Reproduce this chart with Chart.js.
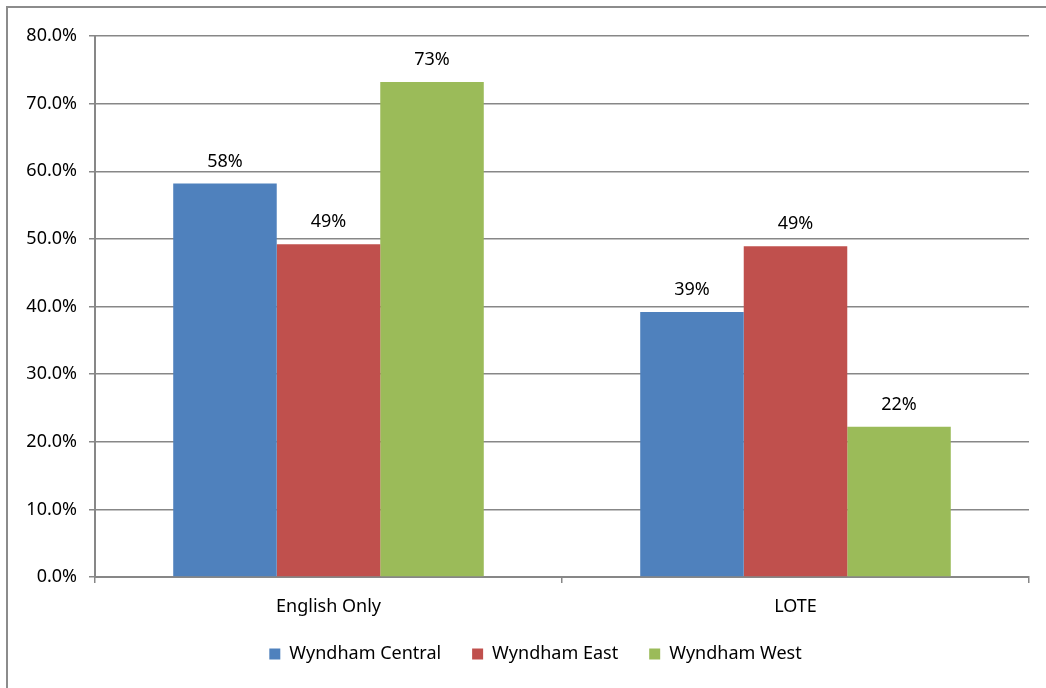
<!DOCTYPE html>
<html>
<head>
<meta charset="utf-8">
<script src="https://cdn.jsdelivr.net/npm/chart.js@4/dist/chart.umd.min.js"></script>
<style>
  html, body { margin: 0; padding: 0; background: #fff; }
  #wrap { position: relative; width: 1046px; height: 688px; }
  #frame { position: absolute; left: 6px; top: 6px; width: 1100px; height: 800px;
           border-left: 2px solid #8c8c8c; border-top: 2px solid #8c8c8c; box-sizing: border-box; }
  canvas { position: absolute; left: 0; top: 0; }
</style>
</head>
<body>
<div id="wrap">
  <div id="frame"></div>
  <canvas id="chart" width="1046" height="688"></canvas>
</div>
<script>
const categories = ['English Only', 'LOTE'];
const central = [58.2, 39.2];
const east = [49.2, 48.9];
const west = [73.2, 22.2];
const yTicks = [0, 10, 20, 30, 40, 50, 60, 70, 80];

const FONT = '"Noto Sans", "Open Sans", sans-serif';

// draw the value above each bar, rounded like the original
const barLabels = {
  id: 'barLabels',
  afterDatasetsDraw(chart) {
    const ctx = chart.ctx;
    ctx.save();
    ctx.font = '18px ' + FONT;
    ctx.fillStyle = '#000';
    ctx.textAlign = 'center';
    ctx.textBaseline = 'middle';
    chart.data.datasets.forEach((ds, i) => {
      chart.getDatasetMeta(i).data.forEach((bar, j) => {
        ctx.fillText(Math.round(ds.data[j]) + '%', bar.x, bar.y - 22);
      });
    });
    ctx.restore();
  }
};

// the legend in the original sits a bit right of the canvas centre;
// also let the category labels run a little below the x-axis box
const layoutTweaks = {
  id: 'layoutTweaks',
  afterLayout(chart) {
    chart.legend.left += 21;
    chart.legend.right += 21;
    chart.scales.x.bottom += 20;
  }
};

const ctx = document.getElementById('chart');
new Chart(ctx, {
  type: 'bar',
  data: {
    labels: categories,
    datasets: [
      { label: 'Wyndham Central', data: central, backgroundColor: '#4f81bd' },
      { label: 'Wyndham East', data: east, backgroundColor: '#c0504d' },
      { label: 'Wyndham West', data: west, backgroundColor: '#9bbb59' }
    ]
  },
  options: {
    responsive: false,
    animation: false,
    categoryPercentage: 0.665,
    barPercentage: 1.0,
    layout: { padding: { left: 0, right: 17, top: 36, bottom: 15 } },
    plugins: {
      tooltip: { enabled: false },
      legend: {
        position: 'bottom',
        labels: {
          boxWidth: 11, boxHeight: 11, padding: 31,
          color: '#000',
          font: { family: FONT, size: 18 }
        }
      }
    },
    scales: {
      x: {
        grid: { drawOnChartArea: false, drawTicks: true, tickLength: 6, color: '#878787', lineWidth: 1.5 },
        border: { color: '#878787', width: 2 },
        ticks: { color: '#000', font: { family: FONT, size: 18 }, padding: 13 },
        afterFit(scale) { scale.height = 37; }
      },
      y: {
        min: 0, max: 80,
        afterBuildTicks(scale) { scale.ticks = yTicks.map(v => ({ value: v })); },
        grid: { color: '#878787', lineWidth: 1.5, tickLength: 6 },
        border: { color: '#878787', width: 2 },
        ticks: {
          color: '#000', font: { family: FONT, size: 18 }, padding: 12,
          callback: v => v.toFixed(1) + '%'
        },
        afterFit(scale) { scale.width = 95; }
      }
    }
  },
  plugins: [barLabels, layoutTweaks]
});
</script>
</body>
</html>
